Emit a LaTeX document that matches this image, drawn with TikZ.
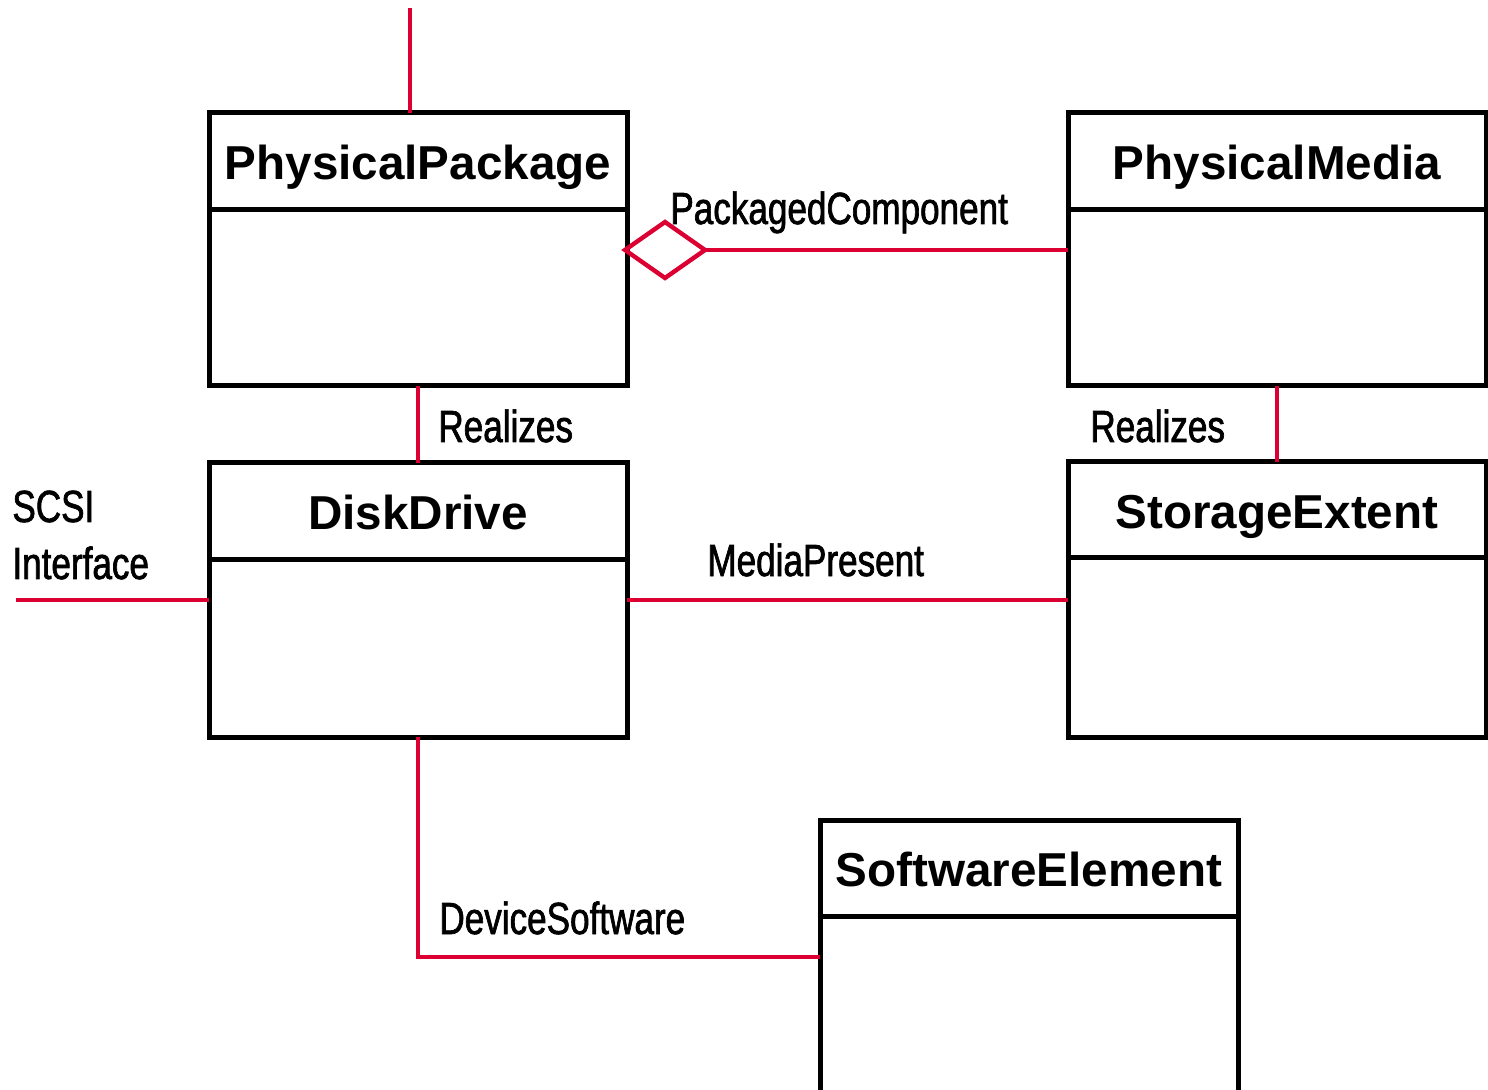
\documentclass[tikz,border=0pt]{standalone}
\usepackage{fontspec}
\setmainfont{Liberation Sans}
\newfontfamily\narrowfont[FakeStretch=0.78,FakeBold=1.5]{Liberation Sans}
\usetikzlibrary{shapes.geometric}
\definecolor{linkred}{RGB}{220,0,50}
\begin{document}
\begin{tikzpicture}[x=0.5pt,y=-0.5pt,
  hdr/.style={draw, line width=2.5pt, minimum width=209pt, minimum height=48.5pt, inner sep=0pt, outer sep=0pt,
    text height=22pt, text depth=3.5pt,
    font=\fontsize{23.8}{28}\selectfont\bfseries},
  body/.style={draw, line width=2.5pt, minimum width=209pt, inner sep=0pt, outer sep=0pt},
  link/.style={draw=linkred, line width=2.2pt},
  lbl/.style={anchor=base west, inner sep=0pt, font=\narrowfont\fontsize{22.5}{26}\selectfont}]
\useasboundingbox (0,0) rectangle (1488,1090);
% classes
\node[hdr] (pph) at (418,161.5) {PhysicalPackage};
\node[body, minimum height=88pt] (ppb) at (418,298) {};
\node[hdr] (pmh) at (1277,161.5) {PhysicalMedia};
\node[body, minimum height=88pt] (pmb) at (1277,298) {};
\node[hdr] (ddh) at (418,511.5) {DiskDrive};
\node[body, minimum height=88.5pt] (ddb) at (418,648.5) {};
\node[hdr, minimum height=48pt] (seh) at (1277,510) {StorageExtent};
\node[body, minimum height=89.5pt] (seb) at (1277,647.5) {};
\node[hdr, minimum height=48pt] (swh) at (1029,868) {SoftwareElement};
\node[body, minimum height=92pt] (swb) at (1029,1008) {};
% connectors
\coordinate (topend) at (410,8);
\draw[link] (topend) -- (topend |- pph.north);
\node[diamond, draw=linkred, line width=2.2pt, minimum width=40pt, minimum height=28pt, inner sep=0pt, outer sep=0pt] (dia) at (665,250) {};
\draw[link] (dia.east) -- (pmb.west |- dia.east);
\draw[link] (ppb.south) -- (ddh.north);
\draw[link] (pmb.south) -- (seh.north);
\coordinate (scsi) at (16,600);
\draw[link] (scsi) -- (ddb.west |- scsi);
\draw[link] (ddb.east |- scsi) -- (seb.west |- scsi);
\coordinate (dsy) at (820,957);
\draw[link] (ddb.south) |- (swb.west |- dsy);
% labels
\node[lbl] (lpc) at (670,224) {PackagedComponent};
\node[lbl] (lr1) at (438,442) {Realizes};
\node[lbl] (lr2) at (1090,442) {Realizes};
\node[lbl] (lscsi) at (12,522) {SCSI};
\node[lbl] (lif) at (12,579) {Interface};
\node[lbl] (lmp) at (707,576) {MediaPresent};
\node[lbl] (lds) at (439,934) {DeviceSoftware};
\end{tikzpicture}
\end{document}
